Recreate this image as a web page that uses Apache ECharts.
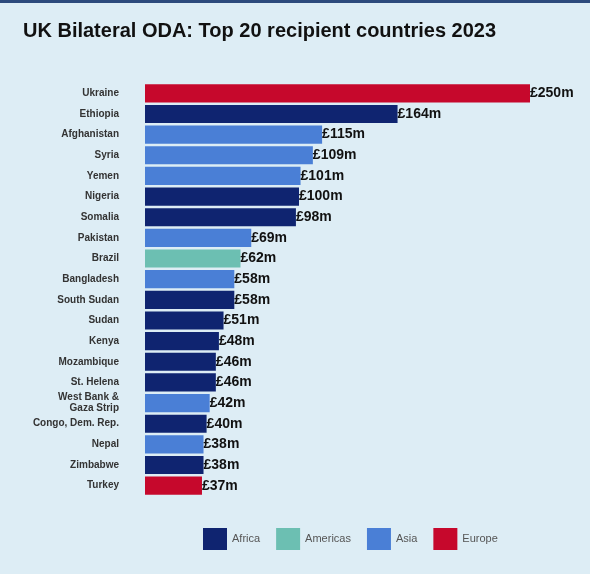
<!DOCTYPE html>
<html>
<head>
<meta charset="utf-8">
<script src="https://cdn.jsdelivr.net/npm/echarts@6/dist/echarts.min.js"></script>
<style>
  body { margin: 0; background: #fff; }
  #chart { width: 590px; height: 574px; background: #ddedf5; border-top: 3px solid #2c4a7c; box-sizing: border-box; }
</style>
</head>
<body>
<div id="chart"></div>
<script>
var countries = ["Ukraine", "Ethiopia", "Afghanistan", "Syria", "Yemen", "Nigeria", "Somalia", "Pakistan", "Brazil",
  "Bangladesh", "South Sudan", "Sudan", "Kenya", "Mozambique", "St. Helena", "West Bank &\nGaza Strip",
  "Congo, Dem. Rep.", "Nepal", "Zimbabwe", "Turkey"];
var values = [250, 164, 115, 109, 101, 100, 98, 69, 62, 58, 58, 51, 48, 46, 46, 42, 40, 38, 38, 37];
var regionOf = ["Europe", "Africa", "Asia", "Asia", "Asia", "Africa", "Africa", "Asia", "Americas",
  "Asia", "Africa", "Africa", "Africa", "Africa", "Africa", "Asia", "Africa", "Asia", "Africa", "Europe"];
var regions = ["Africa", "Americas", "Asia", "Europe"];
var colors = { Africa: "#0f2470", Americas: "#6cbfb2", Asia: "#4a7fd6", Europe: "#c6082c" };

var chart = echarts.init(document.getElementById("chart"));

var series = [];
for (var r = 0; r < regions.length; r++) {
  var d = [];
  for (var i = 0; i < values.length; i++) {
    d.push(regionOf[i] === regions[r] ? values[i] : "-");
  }
  series.push({
    name: regions[r],
    type: "bar",
    stack: "all",
    data: d,
    barCategoryGap: "12%",
    itemStyle: { color: colors[regions[r]] },
    label: {
      show: true, position: "right", distance: 0,
      formatter: function (p) { return "£" + p.value + "m"; },
      fontFamily: "Liberation Sans", fontWeight: "bold", fontSize: 14, color: "#111"
    }
  });
}

chart.setOption({
  animation: false,
  title: {
    text: "UK Bilateral ODA: Top 20 recipient countries 2023",
    left: 18, top: 13,
    textStyle: { fontFamily: "Liberation Sans", fontWeight: "bold", fontSize: 20, color: "#111" }
  },
  legend: {
    data: regions, bottom: 19, left: 198,
    itemWidth: 24, itemHeight: 22, itemGap: 16,
    icon: "rect",
    textStyle: { fontFamily: "Liberation Sans", fontSize: 11, color: "#555" }
  },
  grid: { left: 145, right: 60, top: 80, bottom: 78 },
  xAxis: { type: "value", min: 0, max: 250, show: false },
  yAxis: {
    type: "category", data: countries, inverse: true,
    axisLine: { show: false }, axisTick: { show: false },
    axisLabel: { fontFamily: "Liberation Sans", fontWeight: "bold", fontSize: 10, color: "#333", margin: 26, lineHeight: 11 }
  },
  series: series
});
</script>
</body>
</html>
